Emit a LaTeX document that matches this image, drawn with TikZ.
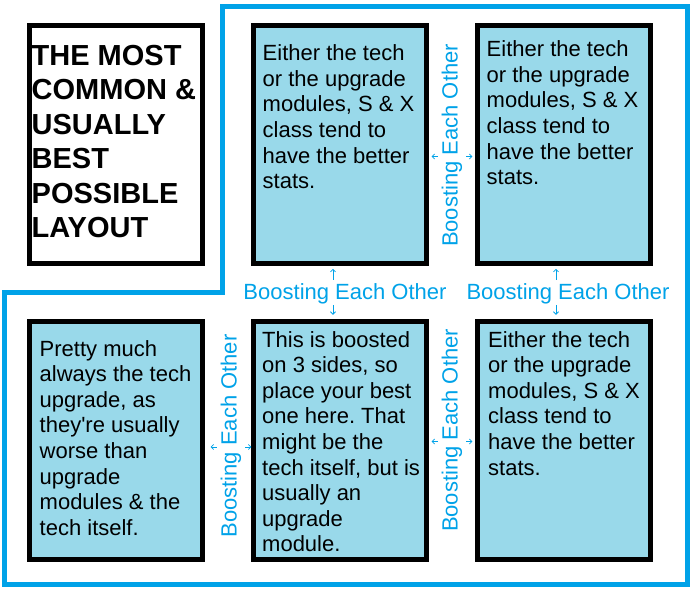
\documentclass[tikz,border=0pt]{standalone}
\usepackage{fontspec}
\setmainfont{Liberation Sans}
\usetikzlibrary{positioning,arrows.meta}
\definecolor{paintblue}{RGB}{0,162,232}
\definecolor{paintsky}{RGB}{153,217,234}
\frenchspacing
\tikzset{
  tile/.style={draw=black,line width=5pt,fill=paintsky,minimum width=173pt,minimum height=238pt,inner sep=0pt},
  blurb/.style={anchor=north west,align=left,inner sep=0pt,font=\fontsize{22}{25.6}\selectfont},
  boost/.style={text=paintblue,inner sep=0pt,font=\fontsize{22}{26}\selectfont},
  tick/.style={draw=paintblue,line width=0.8pt,-{Straight Barb[length=2.5pt,width=5pt]}}
}
\begin{document}
\begin{tikzpicture}[x=1pt,y=1pt,node distance=53pt and 46pt]
\useasboundingbox(0,0)rectangle(691,593);
%outline
\draw[paintblue,line width=5pt](4,8.3)--(4,300.5)--(222.5,300.5)--(222.5,586.2)--(687.5,586.2)--(687.5,8.3)--cycle;
%boxes
\node[tile,fill=white](title)at(115.5,448.5){};
\node[tile,right=of title](tm){};
\node[tile,right=of tm](tr){};
\node[tile,below=of title](bl){};
\node[tile,right=of bl](bm){};
\node[tile,right=of bm](br){};
%text
\node[blurb,font=\fontsize{29}{34.4}\selectfont\bfseries](titletxt)at([shift={(5,-22)}]title.north west){THE MOST\\COMMON \&\\USUALLY\\BEST\\POSSIBLE\\LAYOUT};
\node[blurb](tmtxt)at([shift={(12,-21.5)}]tm.north west){Either the tech\\or the upgrade\\modules, S \& X\\class tend to\\have the better\\stats.};
\node[blurb](trtxt)at([shift={(12,-17.5)}]tr.north west){Either the tech\\or the upgrade\\modules, S \& X\\class tend to\\have the better\\stats.};
\node[blurb](bltxt)at([shift={(13,-21)}]bl.north west){Pretty much\\always the tech\\upgrade, as\\they\textquotesingle re usually\\worse than\\upgrade\\modules \& the\\tech itself.};
\node[blurb](bmtxt)at([shift={(11.5,-12)}]bm.north west){This is boosted\\on 3 sides, so\\place your best\\one here. That\\might be the\\tech itself, but is\\usually an\\upgrade\\module.};
\node[blurb](brtxt)at([shift={(13.5,-12)}]br.north west){Either the tech\\or the upgrade\\modules, S \& X\\class tend to\\have the better\\stats.};
%labels
\node[boost,anchor=base](hb1)at(345,293){Boosting Each Other};
\node[boost,anchor=base](hb2)at(568,293){Boosting Each Other};
\node[boost,rotate=90](vb1)at(452,447.5){Boosting Each Other};
\node[boost,rotate=90](vb2)at(231,157){Boosting Each Other};
\node[boost,rotate=90](vb3)at(452,162.5){Boosting Each Other};
%arrows
\foreach \lab in {hb1,hb2}{
  \draw[tick]([xshift=-12pt,yshift=4pt]\lab.north)--++(0,11);
  \draw[tick]([xshift=-12pt]\lab.south)--++(0,-10);
}
\foreach \lab in {vb1,vb2,vb3}{
  \draw[tick]([xshift=-4pt,yshift=-11pt]\lab.north)--++(-6,0);
  \draw[tick]([xshift=4pt,yshift=-11pt]\lab.south)--++(6,0);
}
\end{tikzpicture}
\end{document}
